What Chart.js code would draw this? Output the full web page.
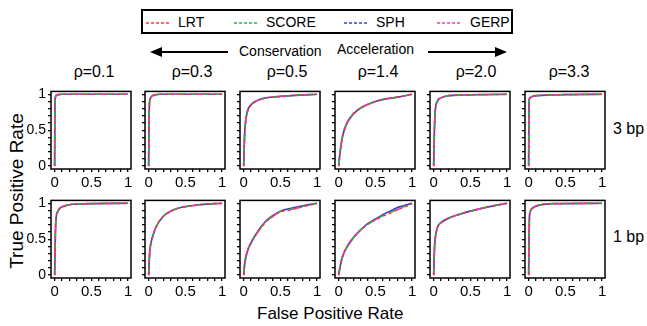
<!DOCTYPE html>
<html><head><meta charset="utf-8">
<script src="https://cdn.jsdelivr.net/npm/chart.js@4/dist/chart.umd.min.js"></script>
<style>
body{margin:0;width:647px;height:326px;background:#fff;position:relative;overflow:hidden;font-family:"Liberation Sans",Arial,sans-serif;color:#000}
.abs{position:absolute;white-space:nowrap}
canvas{position:absolute}
</style></head>
<body>
<div id="legend" class="abs" style="left:141px;top:9px;width:372px;height:25px;border:2px solid #000;box-sizing:border-box"></div>
<svg class="abs" style="left:0;top:0" width="647" height="70">
  <line x1="160" y1="52" x2="228" y2="52" stroke="#000" stroke-width="2"/>
  <polygon points="150,52 162,47 162,57" fill="#000"/>
  <line x1="428" y1="52" x2="497" y2="52" stroke="#000" stroke-width="2"/>
  <polygon points="507,52 495,47 495,57" fill="#000"/>
</svg>
<div class="abs" style="left:239px;top:43px;font-size:14px">Conservation</div>
<div class="abs" style="left:337px;top:41px;font-size:14px">Acceleration</div>
<div id="titles"></div>
<div class="abs" style="left:-83px;top:180px;width:200px;height:22px;line-height:22px;text-align:center;transform:rotate(-90deg);transform-origin:50% 50%;font-size:19px">True Positive Rate</div>
<div class="abs" style="left:257px;top:304px;font-size:17px">False Positive Rate</div>
<script>
// ---------- data ----------
const methods = ['LRT', 'SCORE', 'SPH', 'GERP'];
const rhoLabels = ['ρ=0.1', 'ρ=0.3', 'ρ=0.5', 'ρ=1.4', 'ρ=2.0', 'ρ=3.3'];
const rowLabels = ['3 bp', '1 bp'];
const tickLabels = ['0', '0.5', '1'];
const tickValues = [0, 0.1, 0.2, 0.3, 0.4, 0.5, 0.6, 0.7, 0.8, 0.9, 1];

// 3 bp row
const fpr_3bp_01 = [0, 0.004, 0.01, 0.02, 0.05, 0.1, 1];
const tpr_3bp_01 = {LRT:[0,0.85,0.96,0.985,0.995,1,1], SCORE:[0,0.86,0.96,0.985,0.995,1,1], SPH:[0,0.84,0.955,0.985,0.995,1,1], GERP:[0,0.85,0.96,0.985,0.995,1,1]};
const fpr_3bp_03 = [0, 0.005, 0.01, 0.02, 0.04, 0.08, 0.15, 1];
const tpr_3bp_03 = {LRT:[0,0.6,0.85,0.93,0.97,0.99,1,1], SCORE:[0,0.6,0.85,0.93,0.97,0.99,1,1], SPH:[0,0.62,0.86,0.935,0.97,0.99,1,1], GERP:[0,0.6,0.85,0.93,0.97,0.99,1,1]};
const fpr_3bp_05 = [0, 0.01, 0.02, 0.05, 0.1, 0.15, 0.2, 0.3, 0.5, 0.7, 1];
const tpr_3bp_05 = {LRT:[0,0.35,0.55,0.75,0.85,0.89,0.92,0.95,0.97,0.985,1], SCORE:[0,0.35,0.55,0.75,0.85,0.89,0.92,0.95,0.97,0.985,1], SPH:[0,0.36,0.56,0.76,0.855,0.895,0.92,0.95,0.97,0.985,1], GERP:[0,0.35,0.55,0.75,0.85,0.89,0.92,0.95,0.97,0.985,1]};
const fpr_3bp_14 = [0, 0.02, 0.05, 0.1, 0.2, 0.3, 0.4, 0.5, 0.6, 0.8, 1];
const tpr_3bp_14 = {LRT:[0,0.2,0.4,0.57,0.73,0.81,0.86,0.9,0.93,0.96,1], SCORE:[0,0.2,0.4,0.57,0.73,0.81,0.86,0.9,0.93,0.96,1], SPH:[0,0.2,0.4,0.57,0.725,0.81,0.86,0.9,0.925,0.96,1], GERP:[0,0.2,0.4,0.57,0.73,0.81,0.86,0.9,0.93,0.96,1]};
const fpr_3bp_20 = [0, 0.01, 0.02, 0.05, 0.1, 0.2, 0.4, 1];
const tpr_3bp_20 = {LRT:[0,0.5,0.75,0.9,0.95,0.98,0.99,1], SCORE:[0,0.5,0.75,0.9,0.95,0.98,0.99,1], SPH:[0,0.5,0.75,0.9,0.95,0.98,0.99,1], GERP:[0,0.5,0.75,0.9,0.95,0.98,0.99,1]};
const fpr_3bp_33 = [0, 0.005, 0.02, 0.05, 0.1, 0.3, 1];
const tpr_3bp_33 = {LRT:[0,0.9,0.95,0.97,0.98,0.99,1], SCORE:[0,0.9,0.95,0.97,0.98,0.99,1], SPH:[0,0.91,0.955,0.97,0.98,0.99,1], GERP:[0,0.9,0.95,0.97,0.98,0.99,1]};

// 1 bp row
const fpr_1bp_01 = [0, 0.01, 0.02, 0.04, 0.07, 0.1, 0.2, 0.3, 1];
const tpr_1bp_01 = {LRT:[0,0.6,0.8,0.88,0.93,0.95,0.98,0.99,1], SCORE:[0,0.6,0.8,0.88,0.93,0.95,0.98,0.99,1], SPH:[0,0.6,0.8,0.88,0.93,0.95,0.98,0.99,1], GERP:[0,0.6,0.8,0.88,0.93,0.95,0.98,0.99,1]};
const fpr_1bp_03 = [0, 0.01, 0.02, 0.05, 0.1, 0.2, 0.3, 0.4, 0.5, 0.7, 1];
const tpr_1bp_03 = {LRT:[0,0.25,0.38,0.52,0.67,0.82,0.89,0.93,0.95,0.98,1], SCORE:[0,0.25,0.38,0.52,0.67,0.82,0.89,0.93,0.95,0.98,1], SPH:[0,0.25,0.38,0.52,0.67,0.82,0.89,0.93,0.955,0.98,1], GERP:[0,0.25,0.38,0.52,0.67,0.82,0.89,0.93,0.95,0.98,1]};
const fpr_1bp_05 = [0, 0.01, 0.02, 0.05, 0.1, 0.2, 0.3, 0.4, 0.5, 0.6, 0.8, 1];
const tpr_1bp_05 = {LRT:[0,0.12,0.2,0.33,0.45,0.61,0.74,0.82,0.88,0.9,0.95,1], SCORE:[0,0.12,0.2,0.33,0.45,0.61,0.74,0.82,0.885,0.905,0.955,1], SPH:[0,0.12,0.2,0.33,0.45,0.62,0.75,0.83,0.89,0.92,0.965,1], GERP:[0,0.12,0.2,0.33,0.45,0.61,0.74,0.82,0.88,0.9,0.95,1]};
const fpr_1bp_14 = [0, 0.02, 0.05, 0.1, 0.2, 0.3, 0.4, 0.5, 0.6, 0.7, 0.8, 0.9, 1];
const tpr_1bp_14 = {LRT:[0,0.12,0.25,0.37,0.52,0.63,0.71,0.77,0.82,0.86,0.91,0.95,1], SCORE:[0,0.12,0.25,0.37,0.52,0.63,0.71,0.77,0.825,0.87,0.92,0.96,1], SPH:[0,0.12,0.25,0.37,0.52,0.63,0.72,0.78,0.84,0.89,0.94,0.97,1], GERP:[0,0.12,0.25,0.37,0.52,0.63,0.71,0.77,0.82,0.86,0.91,0.95,1]};
const fpr_1bp_20 = [0, 0.01, 0.02, 0.05, 0.1, 0.2, 0.3, 0.5, 0.7, 1];
const tpr_1bp_20 = {LRT:[0,0.35,0.5,0.66,0.73,0.79,0.83,0.89,0.94,1], SCORE:[0,0.35,0.5,0.66,0.73,0.79,0.83,0.89,0.94,1], SPH:[0,0.35,0.5,0.66,0.73,0.79,0.83,0.89,0.94,1], GERP:[0,0.35,0.5,0.66,0.73,0.79,0.83,0.89,0.94,1]};
const fpr_1bp_33 = [0, 0.005, 0.01, 0.02, 0.05, 0.1, 0.2, 0.4, 1];
const tpr_1bp_33 = {LRT:[0,0.5,0.8,0.88,0.93,0.96,0.985,0.995,1], SCORE:[0,0.5,0.8,0.88,0.93,0.96,0.985,0.995,1], SPH:[0,0.5,0.8,0.88,0.93,0.96,0.985,0.995,1], GERP:[0,0.5,0.8,0.88,0.93,0.96,0.985,0.995,1]};

const panelFpr = [[fpr_3bp_01, fpr_3bp_03, fpr_3bp_05, fpr_3bp_14, fpr_3bp_20, fpr_3bp_33],
                  [fpr_1bp_01, fpr_1bp_03, fpr_1bp_05, fpr_1bp_14, fpr_1bp_20, fpr_1bp_33]];
const panelTpr = [[tpr_3bp_01, tpr_3bp_03, tpr_3bp_05, tpr_3bp_14, tpr_3bp_20, tpr_3bp_33],
                  [tpr_1bp_01, tpr_1bp_03, tpr_1bp_05, tpr_1bp_14, tpr_1bp_20, tpr_1bp_33]];

// ---------- style / layout ----------
const colors = {LRT:'#f23a3a', SCORE:'#1db358', SPH:'#3c44c8', GERP:'#cf45cf'};
const dashes = {LRT:[3,3], SCORE:[3,9], SPH:[], GERP:[3,21]};
const dashOffsets = {LRT:0, SCORE:9, SPH:0, GERP:3};
const drawOrder = {LRT:0, SCORE:1, GERP:2, SPH:3};
const colLeft = [51, 145, 240, 335, 430, 525];
const rowTop = [91, 200];
const boxW = 80, boxH = 78;
const axW = 26, axH = 24, padT = 10, padR = 8;
const titleX = [94, 192, 287, 378, 476, 569];
const rowLabelY = [130, 238];

// legend
const legend = document.getElementById('legend');
const legendPos = [[3, 35], [91, 123], [201, 233], [294, 327]];
methods.forEach((m, i) => {
  const [lx, tx] = legendPos[i];
  legend.insertAdjacentHTML('beforeend',
    `<svg class="abs" style="left:${lx}px;top:10px" width="24" height="4"><line x1="0" y1="2" x2="24" y2="2" stroke="${colors[m]}" stroke-width="1.5" stroke-dasharray="3,2"/></svg>` +
    `<div class="abs" style="left:${tx}px;top:3px;font-size:14px">${m}</div>`);
});
// titles
const titles = document.getElementById('titles');
rhoLabels.forEach((t, c) => {
  titles.insertAdjacentHTML('beforeend', `<div class="abs" style="left:${titleX[c]}px;top:63px;transform:translateX(-50%);font-size:16px">${t}</div>`);
});
rowLabels.forEach((t, r) => {
  titles.insertAdjacentHTML('beforeend', `<div class="abs" style="left:613px;top:${rowLabelY[r]-10}px;font-size:16px">${t}</div>`);
});

const boxPlugin = {
  id: 'box',
  afterDraw(chart) {
    const {ctx, chartArea: a} = chart;
    ctx.save();
    ctx.strokeStyle = '#000';
    ctx.lineWidth = 1.5;
    ctx.strokeRect(a.left, a.top, a.right - a.left, a.bottom - a.top);
    ctx.restore();
  }
};

function labelFor(v) {
  if (Math.abs(v) < 1e-9) return tickLabels[0];
  if (Math.abs(v - 0.5) < 1e-9) return tickLabels[1];
  if (Math.abs(v - 1) < 1e-9) return tickLabels[2];
  return '';
}

for (let r = 0; r < 2; r++) {
  for (let c = 0; c < 6; c++) {
    const cv = document.createElement('canvas');
    const w = axW + boxW + padR, h = padT + boxH + axH;
    cv.width = w; cv.height = h;
    cv.style.width = w + 'px'; cv.style.height = h + 'px';
    cv.style.left = (colLeft[c] - axW) + 'px';
    cv.style.top = (rowTop[r] - padT) + 'px';
    document.body.appendChild(cv);
    const fpr = panelFpr[r][c], tpr = panelTpr[r][c];
    const showY = c === 0;
    new Chart(cv, {
      type: 'line',
      data: {
        datasets: methods.map(m => ({
          label: m,
          data: fpr.map((x, j) => ({x, y: tpr[m][j]})),
          borderColor: colors[m],
          borderWidth: 1.7,
          borderDash: dashes[m],
          borderDashOffset: dashOffsets[m],
          order: drawOrder[m],
          pointRadius: 0,
          cubicInterpolationMode: 'monotone',
          fill: false
        }))
      },
      options: {
        responsive: false,
        animation: false,
        devicePixelRatio: 1,
        layout: {padding: {top: padT, right: padR, left: 0, bottom: 0}},
        plugins: {legend: {display: false}, tooltip: {enabled: false}},
        scales: {
          x: {
            type: 'linear', min: -0.05, max: 1.04,
            afterBuildTicks: s => { s.ticks = tickValues.map(v => ({value: v})); },
            afterFit: s => { s.height = axH; },
            ticks: {callback: v => labelFor(v), color: '#000', font: {size: 15, family: 'Liberation Sans'}, maxRotation: 0, autoSkip: false, padding: 2},
            grid: {drawOnChartArea: false, drawTicks: true, tickLength: 3, color: '#000', lineWidth: 1.3},
            border: {display: false}
          },
          y: {
            type: 'linear', min: -0.04, max: 1.04,
            afterBuildTicks: s => { s.ticks = tickValues.map(v => ({value: v})); },
            afterFit: s => { s.width = axW; },
            ticks: {callback: v => showY ? labelFor(v) : '', color: '#000', font: {size: 14, family: 'Liberation Sans'}, autoSkip: false, padding: 2},
            grid: {drawOnChartArea: false, drawTicks: true, tickLength: 3, color: '#000', lineWidth: 1.3},
            border: {display: false}
          }
        }
      },
      plugins: [boxPlugin]
    });
  }
}
</script>
</body></html>
